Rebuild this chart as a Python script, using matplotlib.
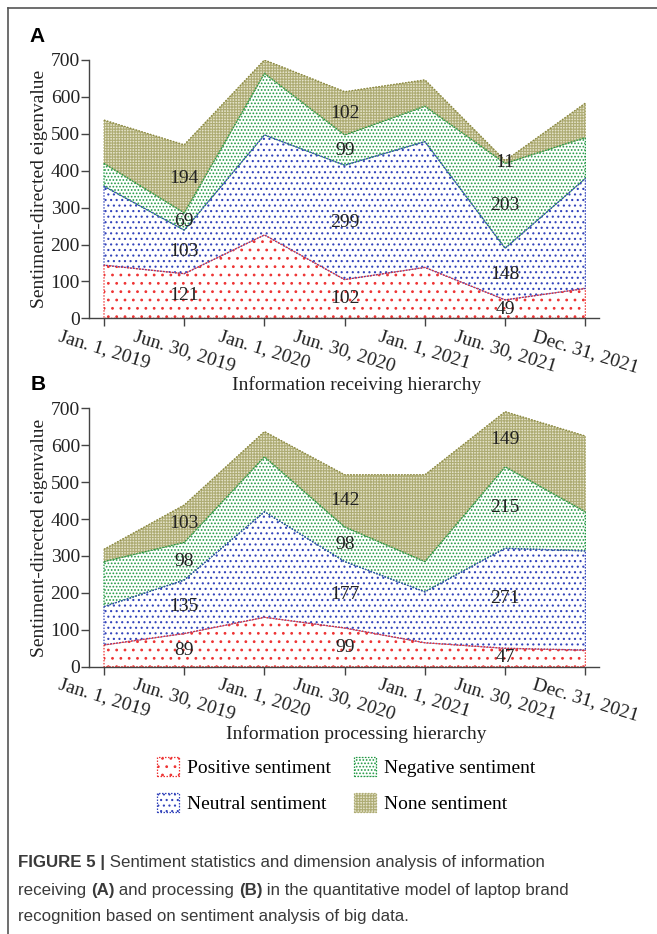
import numpy as np
import matplotlib
matplotlib.use("Agg")
import matplotlib.pyplot as plt
from matplotlib.lines import Line2D
from matplotlib.patches import Patch

# x categories (dates)
dates = ["Jan. 1, 2019", "Jun. 30, 2019", "Jan. 1, 2020", "Jun. 30, 2020",
         "Jan. 1, 2021", "Jun. 30, 2021", "Dec. 31, 2021"]

# panel A: information receiving hierarchy (layer thickness per date)
a_positive = [144, 121, 226, 105, 138, 50, 81]
a_neutral = [214, 118, 271, 310, 341, 140, 298]
a_negative = [62, 47, 167, 82, 96, 230, 111]
a_none = [117, 184, 36, 117, 71, 7, 93]

# panel B: information processing hierarchy
b_positive = [59, 90, 134, 105, 65, 50, 45]
b_neutral = [104, 145, 286, 180, 138, 271, 269]
b_negative = [122, 102, 149, 94, 82, 221, 106]
b_none = [33, 101, 68, 141, 235, 149, 205]

# printed value labels at Jun. 30 of each year (index 1, 3, 5)
label_idx = [1, 3, 5]
a_labels = [[121, 102, 49], [103, 299, 148], [69, 99, 203], [194, 102, 11]]
b_labels = [[89, 99, 47], [135, 177, 271], [98, 98, 215], [103, 142, 149]]

names = ["Positive sentiment", "Neutral sentiment", "Negative sentiment", "None sentiment"]
colors = ["#ee3333", "#3344bb", "#229944", "#aeac74"]
faces = ["white", "white", "white", "#e4e2c9"]
hatches = ["..", "...", ".....", "++++++"]
outline = ["#ee3333", "#3344bb", "#229944", "#8a8840"]

plt.rcParams['hatch.linewidth'] = 0.8
serif = "Liberation Serif"
fs = 14

W, H = 657, 934
fig = plt.figure(figsize=(W / 100, H / 100), dpi=100)

def panel(rect, layers, labels, xlabel, xlab_pos):
    ax = fig.add_axes(rect)
    x = np.arange(len(dates))
    base = np.zeros(len(dates))
    for i, vals in enumerate(layers):
        top = base + np.array(vals)
        ax.fill_between(x, base, top, facecolor=faces[i], edgecolor=colors[i],
                        hatch=hatches[i], linestyle=(0, (1.2, 1.2)), linewidth=0.9,
                        zorder=2 + i * 0.01)
        ax.plot(x, top, color=outline[i], linestyle=(0, (1.2, 1.2)), linewidth=0.9,
                zorder=3)
        for k, j in enumerate(label_idx):
            ax.text(x[j], (base[j] + top[j]) / 2, str(labels[i][k]), ha="center", va="center",
                    fontsize=fs, family=serif, color="#222222", zorder=5)
        base = top
    ax.set_xlim(-0.187, 6.17)
    ax.set_ylim(0, 700)
    ax.set_yticks(range(0, 701, 100))
    ax.set_xticks(x)
    ax.set_xticklabels(dates, rotation=-17, ha="center", va="top", family=serif, fontsize=fs,
                       color="#222222")
    for t in ax.get_yticklabels():
        t.set_family(serif)
        t.set_fontsize(fs)
        t.set_color("#222222")
    ax.tick_params(direction="out", length=5.5, width=1, color="#444444", pad=1)
    ax.tick_params(axis="x", pad=1)
    for s in ["top", "right"]:
        ax.spines[s].set_visible(False)
    for s in ["left", "bottom"]:
        ax.spines[s].set_color("#444444")
        ax.spines[s].set_linewidth(1)
    ax.set_ylabel("Sentiment-directed eigenvalue", family=serif, fontsize=fs, color="#222222",
                  labelpad=2)
    ax.set_xlabel(xlabel, family=serif, fontsize=fs, color="#222222")
    ax.xaxis.set_label_coords(*xlab_pos)
    ax.patch.set_alpha(0)
    return ax

axA = panel([89 / W, 1 - 318.3 / H, 510 / W, 258.3 / H],
            [a_positive, a_neutral, a_negative, a_none], a_labels,
            "Information receiving hierarchy", (0.525, -0.222))
axB = panel([89 / W, 1 - 666.7 / H, 510 / W, 258.3 / H],
            [b_positive, b_neutral, b_negative, b_none], b_labels,
            "Information processing hierarchy", (0.525, -0.226))

fig.text(29 / W, 1 - 37 / H, "A", fontsize=15, fontweight="bold", family="Liberation Sans",
         va="center", ha="left")
fig.text(31 / W, 1 - 385 / H, "B", fontsize=15, fontweight="bold", family="Liberation Sans",
         va="center", ha="left")

handles = [Patch(facecolor=faces[i], edgecolor=colors[i], hatch=hatches[i],
                 linestyle=(0, (1.2, 1.2)), linewidth=0.9) for i in range(4)]
fig.legend(handles, names, loc="center", bbox_to_anchor=(346 / W, 1 - 785 / H), ncol=2,
           frameon=False, prop={"family": serif, "size": fs}, handlelength=1.15,
           handleheight=1.15, handletextpad=0.4, columnspacing=1.2, labelspacing=0.8)

# frame lines
fig.add_artist(Line2D([8 / W, 8 / W], [0, 1 - 8 / H], transform=fig.transFigure,
                      color="#555555", lw=1.2))
fig.add_artist(Line2D([8 / W, 1], [1 - 8 / H, 1 - 8 / H], transform=fig.transFigure,
                      color="#555555", lw=1.2))

# caption with bold pieces
cap_lines = [
    [("FIGURE 5 |", True), (" Sentiment statistics and dimension analysis of information", False)],
    [("receiving ", False), ("(A)", True), (" and processing ", False), ("(B)", True),
     (" in the quantitative model of laptop brand", False)],
    [("recognition based on sentiment analysis of big data.", False)],
]
cap_y = [863, 890, 917]
renderer = fig.canvas.get_renderer()
for line, yy in zip(cap_lines, cap_y):
    xpos = 18
    for txt, bold in line:
        t = fig.text(xpos / W, 1 - yy / H, txt, fontsize=12.2, family="Liberation Sans",
                     fontweight="bold" if bold else "normal", color="#3a3a3a",
                     va="center", ha="left")
        bb = t.get_window_extent(renderer=renderer)
        xpos += bb.width

fig.savefig("out.png", dpi=100)
